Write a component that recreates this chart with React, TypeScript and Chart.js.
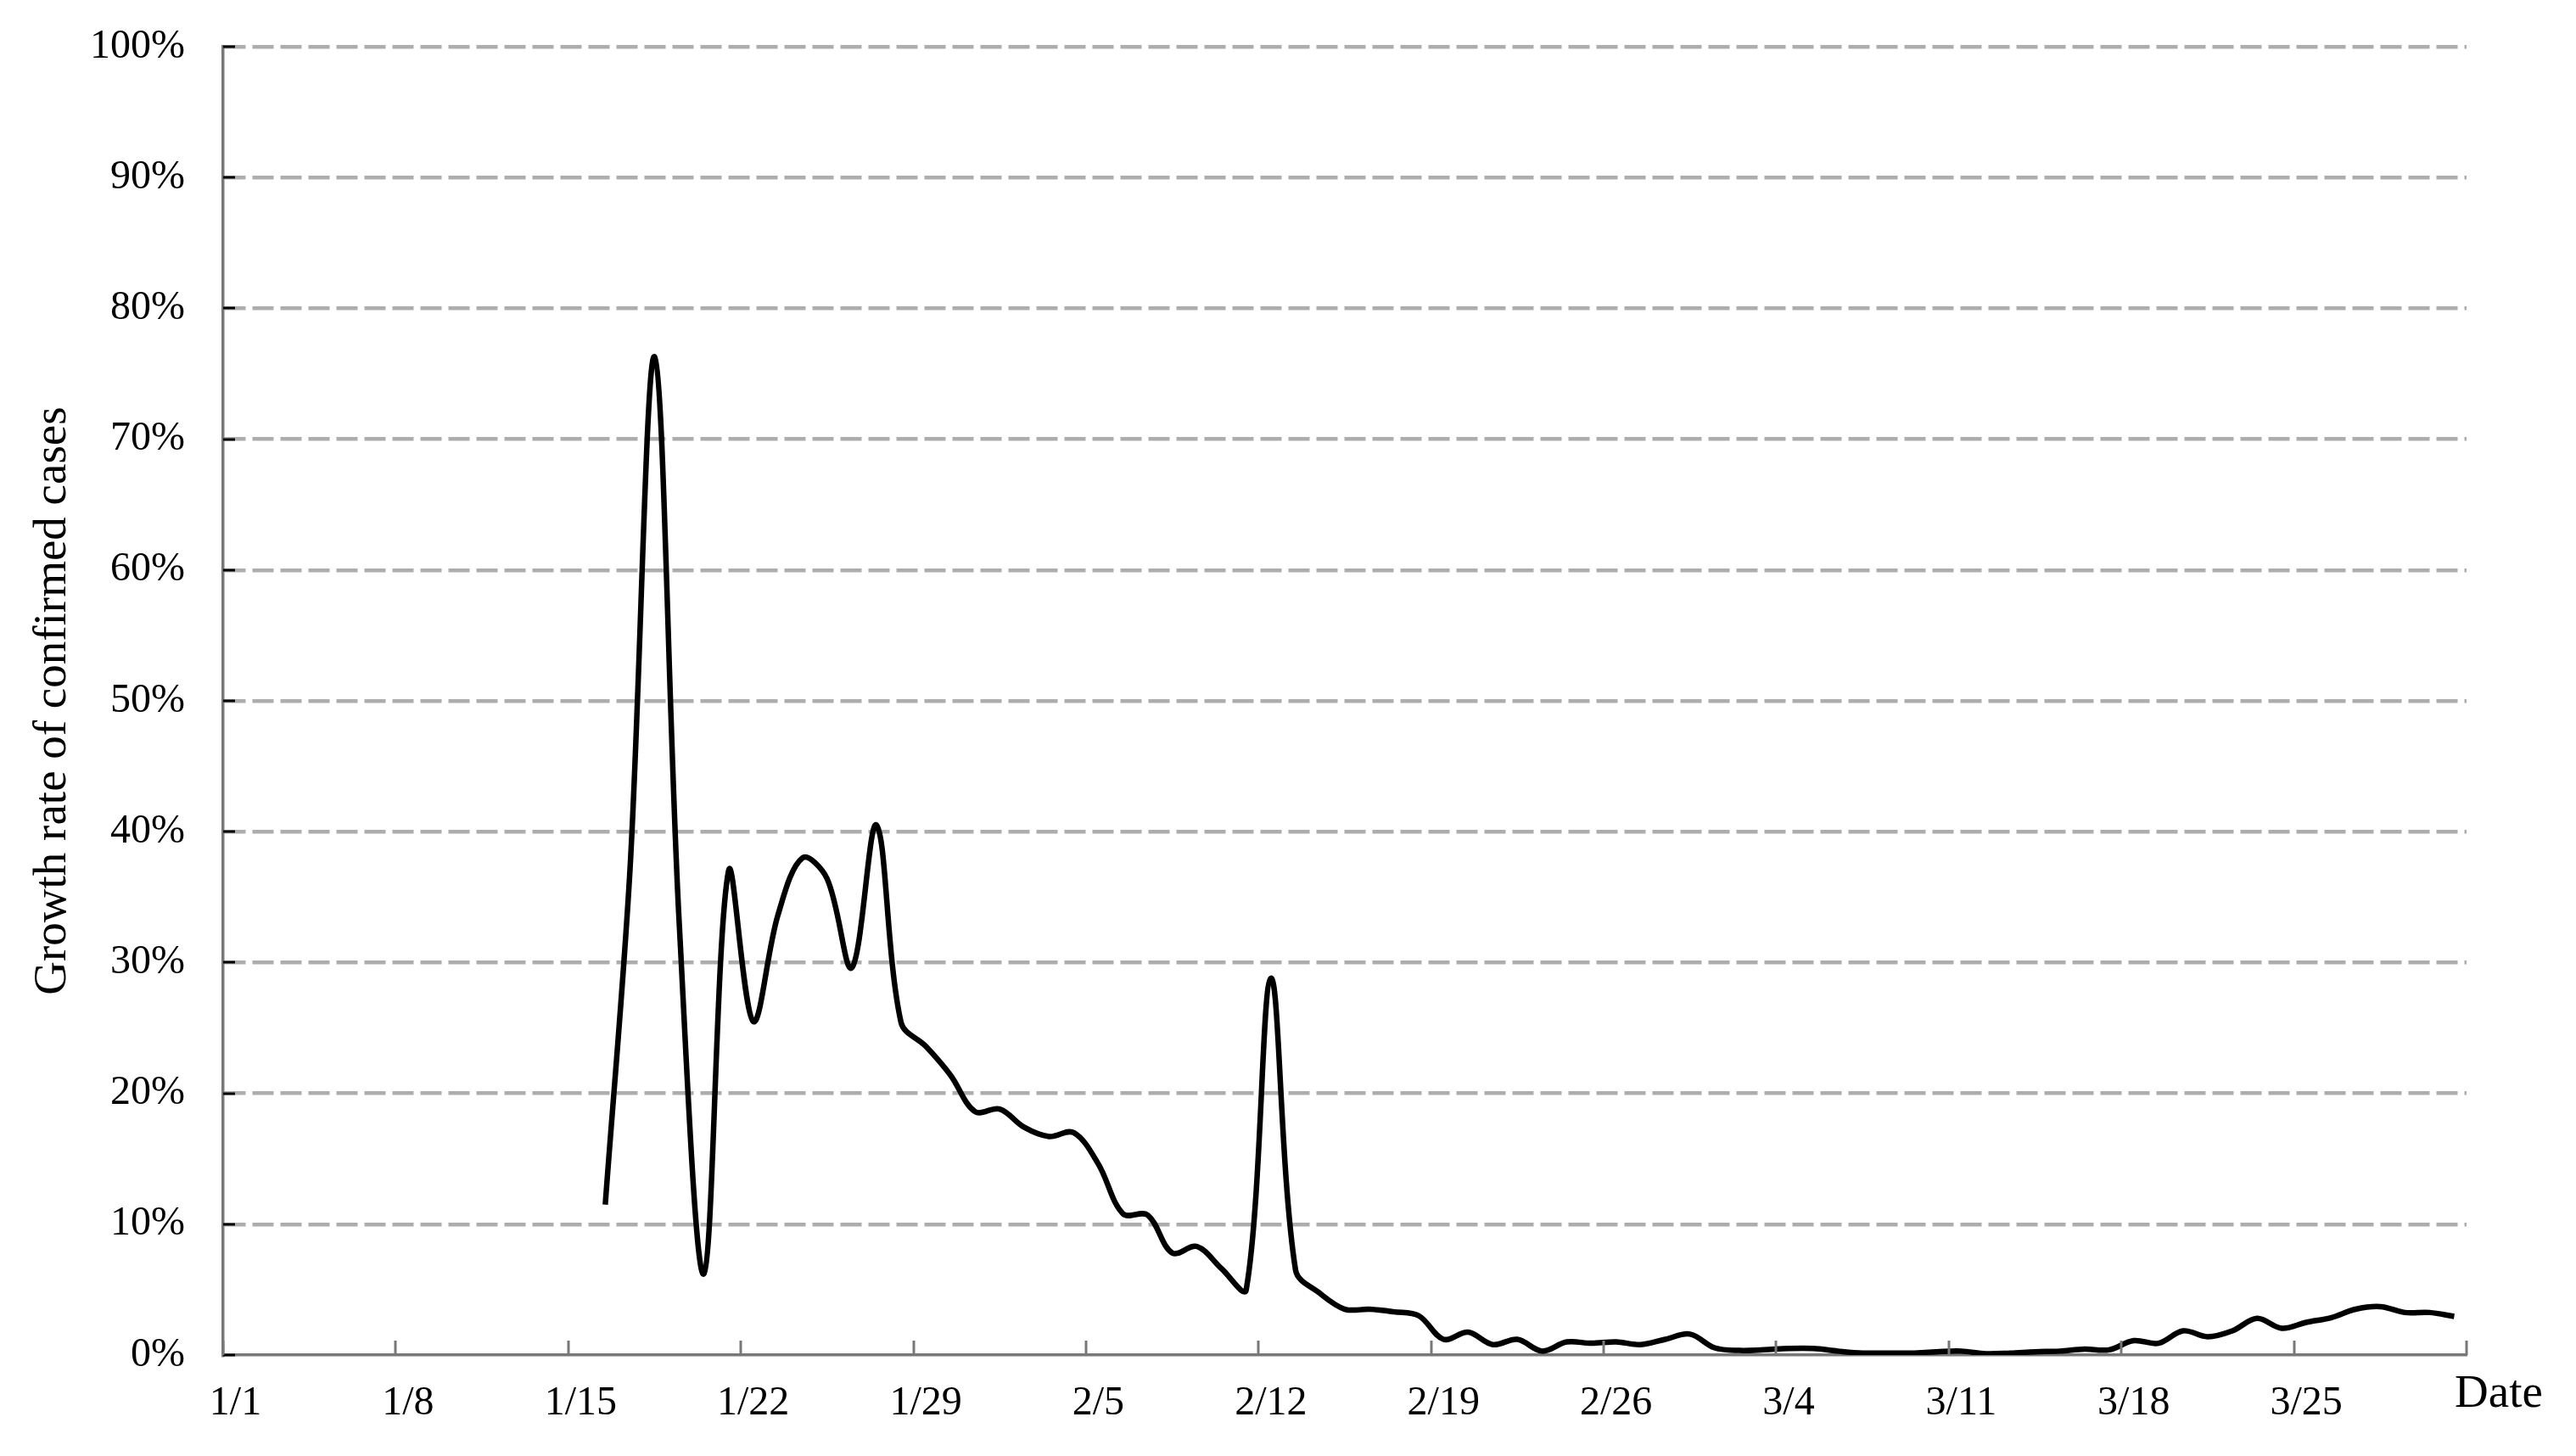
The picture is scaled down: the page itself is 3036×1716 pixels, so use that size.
import React, { useEffect, useRef } from "react";
import { Chart, registerables } from "chart.js";

Chart.register(...registerables);

const categories: string[] = [
  "1/1", "1/2", "1/3", "1/4", "1/5", "1/6", "1/7", "1/8", "1/9", "1/10",
  "1/11", "1/12", "1/13", "1/14", "1/15", "1/16", "1/17", "1/18", "1/19", "1/20",
  "1/21", "1/22", "1/23", "1/24", "1/25", "1/26", "1/27", "1/28", "1/29", "1/30", "1/31",
  "2/1", "2/2", "2/3", "2/4", "2/5", "2/6", "2/7", "2/8", "2/9", "2/10",
  "2/11", "2/12", "2/13", "2/14", "2/15", "2/16", "2/17", "2/18", "2/19", "2/20",
  "2/21", "2/22", "2/23", "2/24", "2/25", "2/26", "2/27", "2/28", "2/29",
  "3/1", "3/2", "3/3", "3/4", "3/5", "3/6", "3/7", "3/8", "3/9", "3/10",
  "3/11", "3/12", "3/13", "3/14", "3/15", "3/16", "3/17", "3/18", "3/19", "3/20",
  "3/21", "3/22", "3/23", "3/24", "3/25", "3/26", "3/27", "3/28", "3/29", "3/30", "3/31",
];

// Growth rate of confirmed cases, in percent (null = no data)
const janRate: (number | null)[] = [
  null, null, null, null, null, null, null, null, null, null,
  null, null, null, null, null, 11.5, 37, 76.3, 33, 6.2,
  37, 25.5, 33.6, 38.0, 36.4, 29.6, 40.5, 25.4, 23.6, 21.4, 18.6,
];
const febRate: number[] = [
  18.8, 17.4, 16.7, 17.0, 14.6, 10.8, 10.7, 7.8, 8.3, 6.6,
  5.0, 28.8, 6.5, 4.7, 3.5, 3.5, 3.3, 3.0, 1.2, 1.75,
  0.8, 1.2, 0.3, 1.0, 0.9, 1.0, 0.8, 1.2, 1.6,
];
const marRate: number[] = [
  0.55, 0.35, 0.4, 0.5, 0.5, 0.3, 0.15, 0.15, 0.15, 0.25,
  0.3, 0.1, 0.15, 0.25, 0.3, 0.45, 0.4, 1.1, 0.9, 1.85,
  1.4, 1.85, 2.8, 2.05, 2.5, 2.85, 3.5, 3.7, 3.25, 3.25, 2.95,
];

const xTickLabels: string[] = [
  "1/1", "1/8", "1/15", "1/22", "1/29", "2/5", "2/12",
  "2/19", "2/26", "3/4", "3/11", "3/18", "3/25",
];
const yTicks: number[] = [0, 10, 20, 30, 40, 50, 60, 70, 80, 90, 100];
const yAxisTitle = "Growth rate of confirmed cases";
const xAxisTitle = "Date";

const FONT = '"Liberation Serif", "Times New Roman", serif';
const AXIS_COLOR = "#787878";

const decorations = {
  id: "decorations",
  afterDraw(chart: any) {
    const { ctx, chartArea: a, scales } = chart;
    const xs = scales.x;
    const ys = scales.y;
    ctx.save();
    // y-axis inward tick marks
    ctx.strokeStyle = "#000";
    ctx.lineWidth = 3;
    for (const v of yTicks) {
      const py = Math.round(ys.getPixelForValue(v));
      ctx.beginPath();
      ctx.moveTo(a.left, py);
      ctx.lineTo(a.left + 14, py);
      ctx.stroke();
    }
    // x-axis inward tick marks at category boundaries
    ctx.strokeStyle = AXIS_COLOR;
    ctx.lineWidth = 3;
    const step = (a.right - a.left) / categories.length;
    const boundaries: number[] = [];
    categories.forEach((c, i) => {
      if (xTickLabels.includes(c)) boundaries.push(xs.getPixelForValue(i) - step / 2);
    });
    boundaries.push(a.right);
    for (const bx of boundaries) {
      const px = Math.round(bx);
      ctx.beginPath();
      ctx.moveTo(px, a.bottom);
      ctx.lineTo(px, a.bottom - 17);
      ctx.stroke();
    }
    // axis titles
    ctx.fillStyle = "#000";
    ctx.font = `55px ${FONT}`;
    ctx.textAlign = "center";
    ctx.textBaseline = "alphabetic";
    ctx.fillText(xAxisTitle, a.right + 38, a.bottom + 61);
    ctx.translate(77, (a.top + a.bottom) / 2);
    ctx.rotate(-Math.PI / 2);
    ctx.fillText(yAxisTitle, 0, 0);
    ctx.restore();
  },
};

export default function App() {
  const canvasRef = useRef<HTMLCanvasElement | null>(null);

  useEffect(() => {
    const canvas = canvasRef.current;
    if (!canvas) return;
    const data = [...janRate, ...febRate, ...marRate];
    const chart = new Chart(canvas, {
      type: "line",
      data: {
        labels: categories,
        datasets: [
          {
            label: "Growth rate",
            data,
            borderColor: "#000",
            borderWidth: 6.5,
            pointRadius: 0,
            pointHoverRadius: 0,
            tension: 0.35,
            fill: false,
            spanGaps: false,
          },
        ],
      },
      options: {
        responsive: false,
        devicePixelRatio: 1,
        animation: false,
        events: [],
        layout: { padding: { left: 0, top: 55, right: 129, bottom: 0 } },
        plugins: {
          legend: { display: false },
          tooltip: { enabled: false },
          title: { display: false },
        },
        scales: {
          x: {
            type: "category",
            offset: true,
            grid: { display: false, drawTicks: false },
            border: { display: true, color: AXIS_COLOR, width: 3.5 },
            ticks: {
              autoSkip: false,
              maxRotation: 0,
              minRotation: 0,
              padding: 29,
              color: "#000",
              font: { family: FONT, size: 48 },
              callback: (_v: any, i: number) =>
                xTickLabels.includes(categories[i]) ? categories[i] : "",
            },
            afterFit: (scale: any) => {
              scale.height = 119;
              scale.paddingLeft = 0;
              scale.paddingRight = 0;
            },
          },
          y: {
            min: 0,
            max: 100,
            grid: {
              display: true,
              drawTicks: false,
              color: (ctx: any) => (ctx.tick && ctx.tick.value === 0 ? "rgba(0,0,0,0)" : "#adadad"),
              lineWidth: 4.5,
            },
            border: { display: true, color: AXIS_COLOR, width: 3.5, dash: [25, 8] },
            ticks: {
              stepSize: 10,
              padding: 45,
              color: "#000",
              font: { family: FONT, size: 48 },
              callback: (v: any) => `${v}%`,
            },
            afterFit: (scale: any) => {
              scale.width = 263;
              scale.paddingTop = 0;
              scale.paddingBottom = 0;
            },
          },
        },
      },
      plugins: [decorations],
    });
    return () => chart.destroy();
  }, []);

  return (
    <div style={{ position: "absolute", left: 0, top: 0, width: 3036, height: 1716, background: "#fff" }}>
      <canvas ref={canvasRef} width={3036} height={1716} style={{ display: "block" }} />
    </div>
  );
}
